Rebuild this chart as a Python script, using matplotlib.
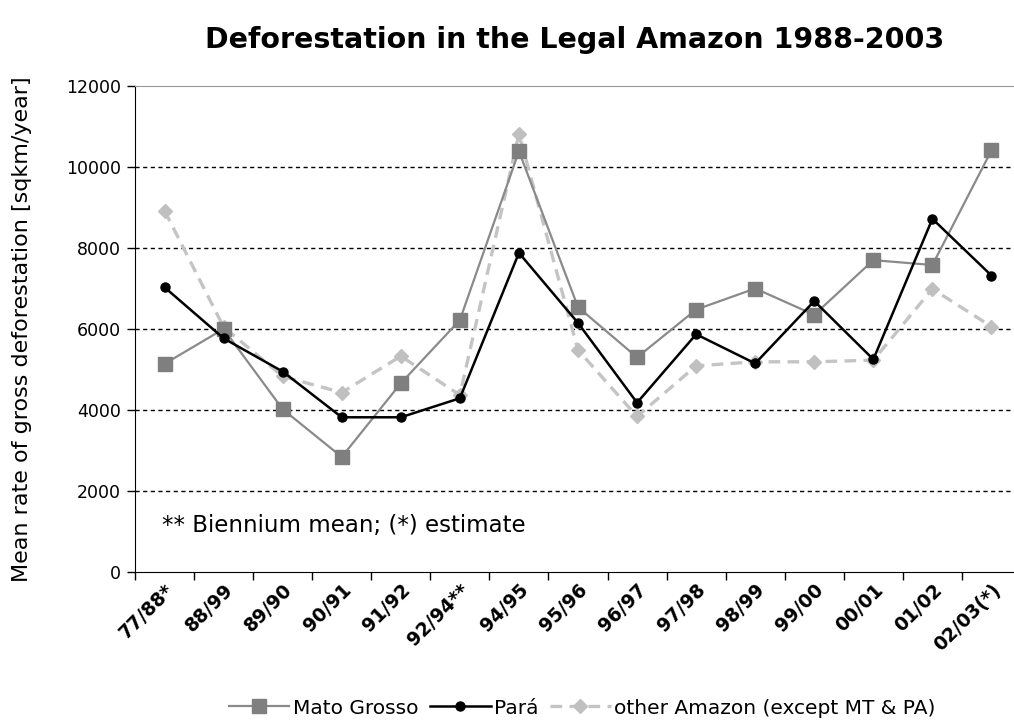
import matplotlib
matplotlib.use("Agg")
import matplotlib.pyplot as plt
import matplotlib.transforms as mtransforms
import numpy as np

categories = ["77/88*", "88/99", "89/90", "90/91", "91/92", "92/94**", "94/95",
              "95/96", "96/97", "97/98", "98/99", "99/00", "00/01", "01/02", "02/03(*)"]
mato_grosso = [5140, 6000, 4020, 2840, 4660, 6220, 10390, 6540, 5300, 6480, 7000,
               6350, 7700, 7580, 10410]
para = [7030, 5770, 4950, 3820, 3820, 4290, 7880, 6150, 4180, 5870, 5150,
        6690, 5250, 8720, 7320]
other = [8920, 6050, 4830, 4430, 5330, 4370, 10820, 5480, 3840, 5090, 5190,
         5190, 5230, 6990, 6060]
yticks = [0, 2000, 4000, 6000, 8000, 10000, 12000]

W, H = 1014, 725
fig = plt.figure(figsize=(W / 100, H / 100), dpi=100)
left, right, top, bottom = 135, 1021, 86, 572
ax = fig.add_axes([left / W, 1 - bottom / H, (right - left) / W, (bottom - top) / H])

x = np.arange(len(categories))
ax.plot(x, mato_grosso, color="#8a8a8a", lw=1.6, marker="s", ms=10,
        mfc="#7f7f7f", mec="#7f7f7f", label="Mato Grosso", zorder=3)
ax.plot(x, para, color="black", lw=1.8, marker="o", ms=6.5,
        mfc="black", mec="black", label="Pará", zorder=4)
ax.plot(x, other, color="#c4c4c4", lw=2.4, ls=(0, (3.5, 2.2)), marker="D", ms=7.5,
        mfc="#c0c0c0", mec="#c0c0c0", label="other Amazon (except MT & PA)", zorder=2)

ax.set_xlim(-0.5, len(categories) - 0.5)
ax.set_ylim(0, 12000)
ax.set_yticks(yticks)
ax.set_yticklabels([str(v) for v in yticks], fontsize=12.5)
ax.set_xticks(np.arange(len(categories) + 1) - 0.5)
ax.set_xticklabels([])
ax.set_xticks(x, minor=True)
ax.set_xticklabels(categories, minor=True, rotation=45, ha="right", va="top",
                   rotation_mode="anchor", fontsize=13.5, fontweight="bold")
offset = mtransforms.ScaledTranslation(-18 / 100, -8 / 100, fig.dpi_scale_trans)
for lab in ax.xaxis.get_minorticklabels():
    lab.set_transform(lab.get_transform() + offset)
ax.tick_params(axis="x", which="minor", length=0, pad=6)
ax.tick_params(axis="x", which="major", length=6, direction="out", width=1)
ax.tick_params(axis="y", length=6, direction="out", width=1, pad=4)

for v in yticks[1:-1]:
    ax.axhline(v, color="black", lw=1.0, ls=(0, (3, 2.5)), zorder=1)

ax.spines["top"].set_color("#999999")
ax.spines["right"].set_visible(False)
ax.spines["left"].set_color("black")
ax.spines["bottom"].set_color("black")

ax.set_ylabel("Mean rate of gross deforestation [sqkm/year]", fontsize=16)
ax.yaxis.set_label_coords(-0.116, 0.5)

ax.text(0.031, 1150, "** Biennium mean; (*) estimate", fontsize=16.5,
        transform=ax.get_yaxis_transform(), ha="left", va="center")

fig.text(575 / W, 1 - 40 / H, "Deforestation in the Legal Amazon 1988-2003",
         ha="center", va="center", fontsize=20.5, fontweight="bold")

handles, labels = ax.get_legend_handles_labels()
fig.legend(handles, labels, loc="center", bbox_to_anchor=(582 / W, 1 - 708 / H),
           ncol=3, frameon=False, fontsize=14.5, handlelength=3.0,
           handletextpad=0.15, columnspacing=0.6, markerscale=1.0)

fig.savefig("out.png", dpi=100)
